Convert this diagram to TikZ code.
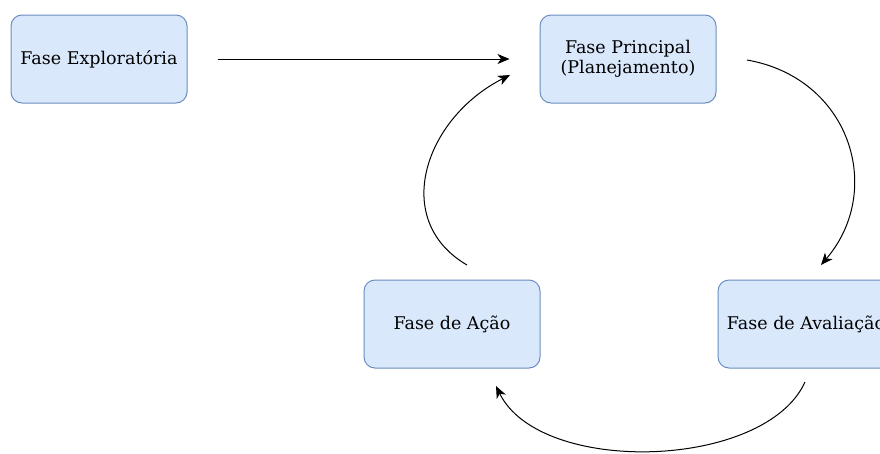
\documentclass[tikz,border=0pt]{standalone}
\usepackage{fontspec}
\setmainfont{DejaVu Serif}
\usetikzlibrary{arrows.meta}
\definecolor{boxfill}{HTML}{DAE8FC}
\definecolor{boxline}{HTML}{6C8EBF}
\tikzset{
  phase/.style={draw=boxline, fill=boxfill, line width=1pt, rounded corners=11pt,
    minimum width=176pt, minimum height=88pt, inner sep=0pt, align=center,
    font=\fontsize{17.5}{20.5}\selectfont},
  flow/.style={line width=1pt, -{Stealth[length=12pt,width=10pt,inset=3.5pt]}},
}
\begin{document}
\begin{tikzpicture}[x=1pt, y=-1pt]
  \useasboundingbox (0,0) rectangle (880,453);
  \clip (0,0) rectangle (880,453);
  \fill[white] (0,0) rectangle (880,453);

  % phases
  \node[phase] (expl) at (99,59) {Fase Exploratória};
  \node[phase] (princ) at (628,59) {Fase Principal\\(Planejamento)};
  \node[phase] (acao) at (452,324) {Fase de Ação};
  \node[phase] (aval) at (806,324) {Fase de Avaliação};

  % connector ends, kept apart from the boxes
  \coordinate (e1) at ([xshift=30pt]expl.east);
  \coordinate (p1) at ([xshift=-30pt]princ.west);
  \coordinate (p2) at (747,60);
  \coordinate (v1) at (821,265);
  \coordinate (v2) at (805,382);
  \coordinate (a1) at (496,386);
  \coordinate (a2) at (467,265);
  \coordinate (p3) at (510,75);

  \draw[flow] (e1) -- (p1);
  \draw[flow] (p2) .. controls (850,78) and (885,190) .. (v1);
  \draw[flow] (v2) .. controls (765,470) and (540,476) .. (a1);
  \draw[flow] (a2) .. controls (390,220) and (425,118) .. (p3);
\end{tikzpicture}
\end{document}
